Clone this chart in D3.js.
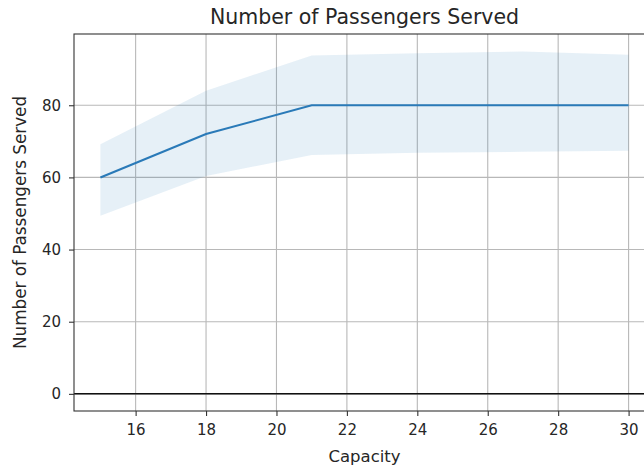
<!DOCTYPE html>
<html>
<head>
<meta charset="utf-8">
<script src="https://cdn.jsdelivr.net/npm/d3@7"></script>
<style>
  html, body { margin: 0; padding: 0; background: #fff; overflow: hidden; }
  svg { display: block; font-family: "DejaVu Sans", sans-serif; }
</style>
</head>
<body>
<svg id="chart" width="644" height="467"></svg>
<script>
// ---- data ----
const capacity = [15, 18, 21, 24, 27, 30];
const served   = [60, 72, 80, 80, 80, 80];
const ciUpper  = [69.2, 84.0, 93.8, 94.4, 94.9, 94.0];
const ciLower  = [49.4, 60.4, 66.2, 66.8, 67.1, 67.4];
const xTicks = [16, 18, 20, 22, 24, 26, 28, 30];
const yTicks = [0, 20, 40, 60, 80];
const titleText = "Number of Passengers Served";
const xLabel = "Capacity";
const yLabel = "Number of Passengers Served";

// ---- layout ----
const mLeft = 74, mTop = 34, mBottom = 411, mRight = 655;
const svg = d3.select("#chart");

const x = d3.scaleLinear().domain([14.25, 30.75]).range([mLeft, mRight]);
const y = d3.scaleLinear().domain([-4.75, 99.75]).range([mBottom, mTop]);

const rows = capacity.map((c, i) => ({c, m: served[i], lo: ciLower[i], hi: ciUpper[i]}));

// grid
const grid = svg.append("g");
grid.selectAll("line.gx").data(xTicks).join("line")
  .attr("x1", d => x(d)).attr("x2", d => x(d))
  .attr("y1", mTop).attr("y2", mBottom)
  .attr("stroke", "#b8b8b8").attr("stroke-width", 1.1);
grid.selectAll("line.gy").data(yTicks).join("line")
  .attr("x1", mLeft).attr("x2", mRight)
  .attr("y1", d => y(d)).attr("y2", d => y(d))
  .attr("stroke", "#b8b8b8").attr("stroke-width", 1.1);

// band
svg.append("path").datum(rows)
  .attr("d", d3.area().x(d => x(d.c)).y0(d => y(d.lo)).y1(d => y(d.hi)))
  .attr("fill", "#1f77b4").attr("fill-opacity", 0.11);

// line
svg.append("path").datum(rows)
  .attr("d", d3.line().x(d => x(d.c)).y(d => y(d.m)))
  .attr("fill", "none").attr("stroke", "#2a7ab8").attr("stroke-width", 2.1);

// zero line
svg.append("line")
  .attr("x1", mLeft).attr("x2", mRight)
  .attr("y1", y(0)).attr("y2", y(0))
  .attr("stroke", "#111").attr("stroke-width", 1.5);

// axes
const xAxis = d3.axisBottom(x).tickValues(xTicks).tickSize(5).tickPadding(8).tickFormat(d3.format("d"));
const yAxis = d3.axisLeft(y).tickValues(yTicks).tickSize(5).tickPadding(8).tickFormat(d3.format("d"));

const gx = svg.append("g").attr("transform", `translate(0,${mBottom})`).call(xAxis);
const gy = svg.append("g").attr("transform", `translate(${mLeft},0)`).call(yAxis);
[gx, gy].forEach(g => {
  g.select(".domain").remove();
  g.selectAll(".tick line").attr("stroke", "#333").attr("stroke-width", 1.1);
  g.selectAll(".tick text").attr("fill", "#262626").style("font-size", "15px").style("font-family", "DejaVu Sans");
});

// spines
svg.append("rect").attr("x", mLeft).attr("y", mTop)
  .attr("width", mRight - mLeft).attr("height", mBottom - mTop)
  .attr("fill", "none").attr("stroke", "#333").attr("stroke-width", 1.1);

// title and labels
svg.append("text").attr("x", (mLeft + mRight) / 2).attr("y", 24)
  .attr("text-anchor", "middle").attr("fill", "#262626")
  .style("font-size", "20.5px").text(titleText);
svg.append("text").attr("x", (mLeft + mRight) / 2).attr("y", 462)
  .attr("text-anchor", "middle").attr("fill", "#262626")
  .style("font-size", "16.5px").text(xLabel);
svg.append("text")
  .attr("transform", `translate(26,${(mTop + mBottom) / 2}) rotate(-90)`)
  .attr("text-anchor", "middle").attr("fill", "#262626")
  .style("font-size", "16.8px").text(yLabel);
</script>
</body>
</html>
